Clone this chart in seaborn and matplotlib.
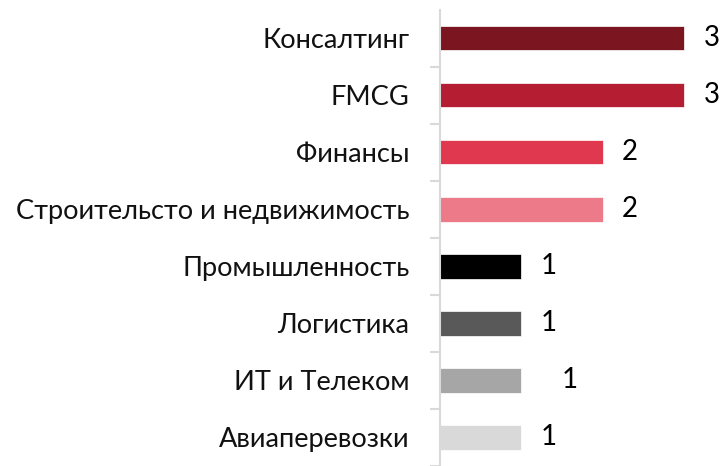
import matplotlib
matplotlib.use("Agg")
import matplotlib.pyplot as plt
import seaborn as sns
import pandas as pd
import numpy as np

categories = ["Консалтинг", "FMCG", "Финансы", "Строительсто и недвижимость",
              "Промышленность", "Логистика", "ИТ и Телеком", "Авиаперевозки"]
values = [3, 3, 2, 2, 1, 1, 1, 1]
colors = ["#7B1520", "#B51D33", "#E0384F", "#EC7A89",
          "#000000", "#595959", "#A6A6A6", "#D9D9D9"]
label_pad = [14, 14, 14, 14, 14, 14, 29, 14]

df = pd.DataFrame({"category": categories, "value": values})

sns.set_theme(style="white")
plt.rcParams["font.family"] = ["Lato", "DejaVu Sans"]

fig = plt.figure(figsize=(7.22, 4.66), dpi=100)
ax = fig.add_axes([440 / 722, 0, 282 / 722, 456.4 / 466])

sns.barplot(data=df, x="value", y="category", hue="category", palette=colors,
            legend=False, width=0.43, ax=ax, saturation=1, edgecolor="white",
            linewidth=0.5)

for cont, pad in zip(ax.containers, label_pad):
    ax.bar_label(cont, padding=pad, fontsize=20, color="black")

ax.set_xlim(0, 3.467)
ax.set_ylim(7.5, -0.5)
ax.set_xlabel("")
ax.set_ylabel("")
ax.set_xticks([])

for s in ["top", "right", "bottom"]:
    ax.spines[s].set_visible(False)
ax.spines["left"].set_color("#D9D9D9")
ax.spines["left"].set_linewidth(1.5)

ax.set_yticks(np.arange(len(categories)))
ax.set_yticklabels(categories, fontsize=19.6, color="#111111")
ax.set_yticks(np.arange(len(categories)) + 0.5, minor=True)
ax.tick_params(axis="y", which="major", length=0, pad=22)
ax.tick_params(axis="y", which="minor", length=7, width=1.5, color="#D9D9D9", left=True)

fig.savefig("out.png", dpi=100)
